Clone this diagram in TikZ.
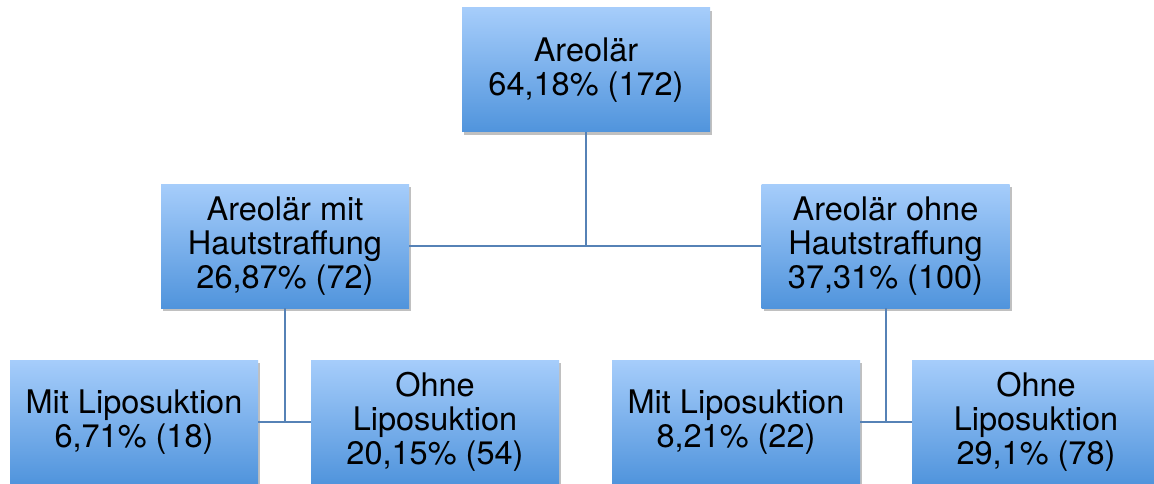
\documentclass[tikz,border=0pt]{standalone}
\usepackage{fontspec}
\setmainfont{TeX Gyre Heros}
\usetikzlibrary{shadows}
\definecolor{boxtop}{RGB}{166,205,251}
\definecolor{boxbot}{RGB}{80,148,220}
\definecolor{linec}{RGB}{86,130,182}
\tikzset{
  orgbox/.style={rectangle, minimum width=248pt, minimum height=124pt, inner sep=0pt,
    align=center, top color=boxtop, bottom color=boxbot, draw=none,
    drop shadow={shadow xshift=2pt, shadow yshift=-3pt, opacity=0.35, fill=black!70},
    font=\fontsize{32.5pt}{34pt}\selectfont},
  conn/.style={draw=linec, line width=2pt}
}
\begin{document}
\begin{tikzpicture}[x=1pt,y=-1pt]
\useasboundingbox (0,0) rectangle (1154,484);
\clip (0,0) rectangle (1154,484);
\fill[white] (0,0) rectangle (1154,484);
\node[orgbox] (top) at (586,70) {Areolär\\64,18\% (172)};
\node[orgbox] (ml) at (285,246) {Areolär mit\\Hautstraffung\\26,87\% (72)};
\node[orgbox] (mr) at (885.5,246) {Areolär ohne\\Hautstraffung\\37,31\% (100)};
\node[orgbox] (b1) at (134,422) {Mit Liposuktion\\6,71\% (18)};
\node[orgbox] (b2) at (435,422) {Ohne\\Liposuktion\\20,15\% (54)};
\node[orgbox] (b3) at (736,422) {Mit Liposuktion\\8,21\% (22)};
\node[orgbox] (b4) at (1036,422) {Ohne\\Liposuktion\\29,1\% (78)};
\coordinate (j1) at (top.south |- ml.east);
\coordinate (j2) at (ml.south |- b1.east);
\coordinate (j3) at (mr.south |- b3.east);
\draw[conn] (ml.east) -- (mr.west);
\draw[conn] (top.south) -- (j1);
\draw[conn] (b1.east) -- (b2.west);
\draw[conn] (ml.south) -- (j2);
\draw[conn] (b3.east) -- (b4.west);
\draw[conn] (mr.south) -- (j3);
\end{tikzpicture}
\end{document}
